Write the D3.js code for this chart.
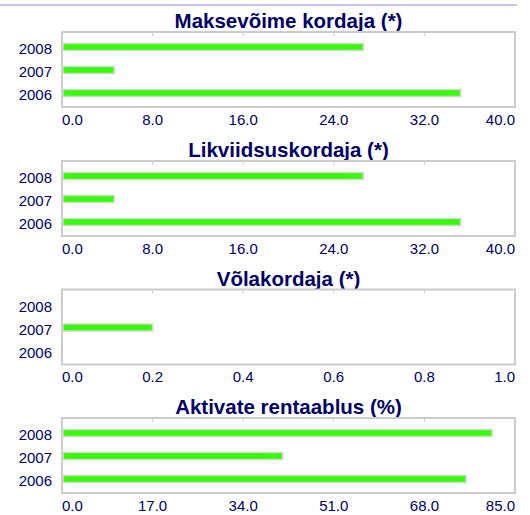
<!DOCTYPE html>
<html>

<head>
    <meta charset="UTF-8">
    <title>Finantsnäitajad</title>
    <style>
        html,
        body {
            margin: 0;
            padding: 0;
            background: #fff;
        }

        svg {
            display: block;
            font-family: "Liberation Sans", Arial, sans-serif;
        }
    </style>
</head>

<body>
    <svg width="530" height="515"></svg>

    <script src="https://d3js.org/d3.v7.min.js"></script>
    <script>
// data
var years = ["2008", "2007", "2006"];
var titles = ["Maksevõime kordaja (*)", "Likviidsuskordaja (*)", "Võlakordaja (*)", "Aktivate rentaablus (%)"];
var maksevoime = [26.6, 4.6, 35.2];
var likviidsus = [26.6, 4.6, 35.2];
var volakordaja = [0, 0.2, 0];
var rentaablus = [80.7, 41.4, 75.8];
var axisMax = [40, 40, 1, 85];
var series = [maksevoime, likviidsus, volakordaja, rentaablus];

// layout
var left = 62;       // box left
var boxW = 453;      // box width
var boxH = 75;       // box height
var tops = [32, 161, 289.5, 418];
var green = "#33ff00";
var navy = "#000066";

var svg = d3.select("svg");

// top rule
svg.append("line")
    .attr("x1", 0).attr("x2", 517)
    .attr("y1", 5).attr("y2", 5)
    .attr("stroke", "#c4c4f6")
    .attr("stroke-width", 2);

series.forEach(function (values, i) {
    var top = tops[i];
    var g = svg.append("g").attr("transform", "translate(" + left + "," + top + ")");

    var x = d3.scaleLinear().domain([0, axisMax[i]]).range([0, boxW]);
    var y = d3.scaleBand().domain(years).range([3.5, boxH - 2.5]);
    var ticks = d3.range(6).map(function (k) { return axisMax[i] * k / 5; });

    // title
    g.append("text")
        .attr("x", boxW / 2)
        .attr("y", -4)
        .attr("text-anchor", "middle")
        .attr("font-size", 20.5)
        .attr("font-weight", "bold")
        .attr("fill", navy)
        .text(titles[i]);

    // box
    g.append("rect")
        .attr("x", 0).attr("y", 0)
        .attr("width", boxW).attr("height", boxH)
        .attr("fill", "none")
        .attr("stroke", "#cccccc")
        .attr("stroke-width", 2);

    // small tick marks at top
    g.selectAll(".tm")
        .data(ticks.slice(1, 5))
        .enter()
        .append("line")
        .attr("x1", function (d) { return x(d); })
        .attr("x2", function (d) { return x(d); })
        .attr("y1", 1).attr("y2", 4)
        .attr("stroke", "#cccccc")
        .attr("stroke-width", 1);

    // bars
    g.selectAll(".bar")
        .data(values.map(function (v, j) { return { year: years[j], v: v }; })
            .filter(function (d) { return d.v > 0; }))
        .enter()
        .append("rect")
        .attr("x", 1)
        .attr("y", function (d) { return y(d.year) + y.bandwidth() / 2 - 3.5; })
        .attr("width", function (d) { return x(d.v) - 1; })
        .attr("height", 7)
        .attr("fill", green)
        .attr("stroke", "#d4d4d4")
        .attr("stroke-width", 1.5);

    // year labels
    g.selectAll(".yl")
        .data(years)
        .enter()
        .append("text")
        .attr("x", -10)
        .attr("y", function (d) { return y(d) + y.bandwidth() / 2 + 7; })
        .attr("text-anchor", "end")
        .attr("font-size", 15)
        .attr("fill", navy)
        .text(function (d) { return d; });

    // value axis labels: first one starts at the box edge, last one ends at it
    var fmt = d3.format(".1f");
    g.selectAll(".xl")
        .data(ticks)
        .enter()
        .append("text")
        .attr("x", function (d) { return x(d); })
        .attr("y", boxH + 17.5)
        .attr("text-anchor", function (d, k) { return k == 0 ? "start" : (k == 5 ? "end" : "middle"); })
        .attr("font-size", 15)
        .attr("fill", navy)
        .text(function (d) { return fmt(d); });
});
    </script>
</body>

</html>
